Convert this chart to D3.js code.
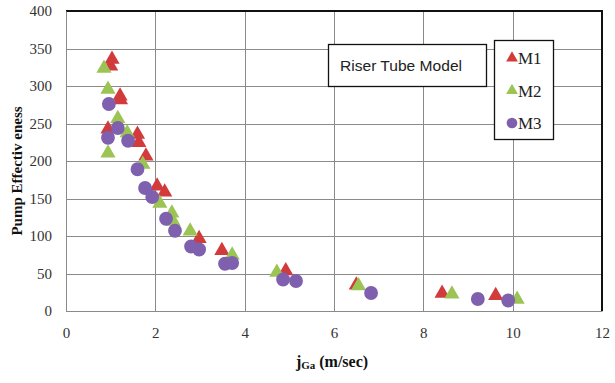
<!DOCTYPE html>
<html>
<head>
<meta charset="utf-8">
<script src="https://cdn.jsdelivr.net/npm/d3@7"></script>
<style>
  html, body { margin: 0; padding: 0; background: #fff; }
  svg { display: block; }
</style>
</head>
<body>
<svg id="chart"></svg>
<script>
// --- data (x = jGa in m/sec, y = pump effectiveness) ---
const seriesNames = ['M1', 'M2', 'M3'];

const m1 = [
  [1.03, 337], [1.0, 328], [1.21, 288], [1.22, 283], [0.94, 244], [1.6, 237],
  [1.63, 226], [1.79, 208], [2.04, 168], [2.21, 160], [2.98, 98], [3.49, 82],
  [4.92, 55], [6.5, 36], [8.42, 25], [9.62, 22]
];
const m2 = [
  [0.85, 325], [0.94, 297], [1.16, 258], [1.37, 239], [0.94, 212], [1.72, 197],
  [2.1, 145], [2.37, 132], [2.4, 121], [2.78, 108], [3.72, 76], [4.72, 53],
  [6.55, 35], [8.64, 24], [10.1, 17]
];
const m3 = [
  [0.96, 276], [1.16, 244], [0.94, 231], [1.39, 227], [1.6, 189], [1.77, 164],
  [1.93, 152], [2.24, 123], [2.44, 107], [2.8, 86], [2.98, 82], [3.56, 63],
  [3.72, 64], [4.86, 42], [5.15, 40], [6.83, 24], [9.22, 16], [9.9, 14]
];

const xTicks = [0, 2, 4, 6, 8, 10, 12];
const yTicks = [0, 50, 100, 150, 200, 250, 300, 350, 400];

const width = 615, height = 383;
const margin = { top: 11, right: 13, bottom: 72, left: 66 };

const svg = d3.select('#chart').attr('width', width).attr('height', height);

const x = d3.scaleLinear().domain([0, 12]).range([margin.left, width - margin.right]);
const y = d3.scaleLinear().domain([0, 400]).range([height - margin.bottom, margin.top]);

const color = d3.scaleOrdinal()
  .domain(seriesNames)
  .range(['#d13b3c', '#9cc455', '#7e60ae']);

const shape = d3.scaleOrdinal()
  .domain(seriesNames)
  .range(['triangle', 'triangle', 'circle']);

// gridlines
const grid = svg.append('g').attr('stroke', '#8a8a8a').attr('stroke-width', 1);
grid.selectAll('line.h')
  .data(yTicks)
  .join('line')
    .attr('class', 'h')
    .attr('x1', x(0)).attr('x2', x(12))
    .attr('y1', d => Math.round(y(d)) + 0.5).attr('y2', d => Math.round(y(d)) + 0.5);
grid.selectAll('line.v')
  .data(xTicks)
  .join('line')
    .attr('class', 'v')
    .attr('y1', y(0)).attr('y2', y(400))
    .attr('x1', d => Math.round(x(d)) + 0.5).attr('x2', d => Math.round(x(d)) + 0.5);

// plot frame: top and right dark
svg.append('path')
  .attr('d', `M${x(0)},${y(400)}H${x(12)}V${y(0)}`)
  .attr('fill', 'none')
  .attr('stroke', '#111')
  .attr('stroke-width', 2);

// axes
const xAxis = svg.append('g')
  .attr('transform', `translate(0,${y(0)})`)
  .call(d3.axisBottom(x).tickValues(xTicks).tickSize(0).tickPadding(16));
const yAxis = svg.append('g')
  .attr('transform', `translate(${x(0)},0)`)
  .call(d3.axisLeft(y).tickValues(yTicks).tickSize(0).tickPadding(14));

[xAxis, yAxis].forEach(a => {
  a.select('.domain').attr('stroke', '#8a8a8a');
  a.selectAll('text')
    .attr('fill', '#333')
    .style('font-family', '"Liberation Serif", "Times New Roman", serif')
    .style('font-size', '15px');
});

// markers
const series = [
  { name: 'M1', values: m1 },
  { name: 'M2', values: m2 },
  { name: 'M3', values: m3 }
];

const triangle = d3.symbol().type(d3.symbolTriangle).size(100);
const circle = d3.symbol().type(d3.symbolCircle).size(150);

function markPath(name) {
  return shape(name) === 'triangle' ? triangle() : circle();
}

series.forEach(s => {
  svg.append('g')
    .selectAll('path')
    .data(s.values)
    .join('path')
      .attr('d', markPath(s.name))
      .attr('transform', d => `translate(${x(d[0])},${y(d[1]) + (shape(s.name) === 'triangle' ? 1 : 0)})`)
      .attr('fill', color(s.name));
});

// "Riser Tube Model" text box
const note = svg.append('g');
note.append('rect')
  .attr('x', 328.5).attr('y', 44.5)
  .attr('width', 158).attr('height', 42)
  .attr('fill', '#fff')
  .attr('stroke', '#111')
  .attr('stroke-width', 1.3);
note.append('text')
  .attr('x', 340).attr('y', 71)
  .attr('textLength', 122)
  .attr('lengthAdjust', 'spacingAndGlyphs')
  .style('font-family', '"Liberation Sans", Arial, sans-serif')
  .style('font-size', '15px')
  .attr('fill', '#222')
  .text('Riser Tube Model');

// legend
const legend = svg.append('g');
legend.append('rect')
  .attr('x', 494.5).attr('y', 40.5)
  .attr('width', 59).attr('height', 99)
  .attr('fill', '#fff')
  .attr('stroke', '#111')
  .attr('stroke-width', 1.3);

const legendY = d3.scalePoint().domain(seriesNames).range([58, 123]);

legend.selectAll('path')
  .data(seriesNames)
  .join('path')
    .attr('d', d => shape(d) === 'triangle'
      ? d3.symbol().type(d3.symbolTriangle).size(60)()
      : d3.symbol().type(d3.symbolCircle).size(90)())
    .attr('transform', d => `translate(512,${legendY(d)})`)
    .attr('fill', d => color(d));

legend.selectAll('text')
  .data(seriesNames)
  .join('text')
    .attr('x', 518)
    .attr('y', d => legendY(d) + 6)
    .style('font-family', '"Liberation Serif", "Times New Roman", serif')
    .style('font-size', '17px')
    .attr('fill', '#222')
    .text(d => d);

// axis titles
svg.append('text')
  .attr('transform', `translate(22,${(y(0) + y(400)) / 2 + 10}) rotate(-90)`)
  .attr('text-anchor', 'middle')
  .style('font-family', '"Liberation Serif", "Times New Roman", serif')
  .style('font-size', '15px')
  .style('font-weight', 'bold')
  .attr('fill', '#111')
  .text('Pump Effectiv eness');

const xTitle = svg.append('text')
  .attr('x', 332)
  .attr('y', 367)
  .attr('text-anchor', 'middle')
  .style('font-family', '"Liberation Serif", "Times New Roman", serif')
  .style('font-size', '16px')
  .style('font-weight', 'bold')
  .attr('fill', '#111');
xTitle.append('tspan').text('j');
xTitle.append('tspan').attr('font-size', '11px').attr('dy', 2).text('Ga');
xTitle.append('tspan').attr('dy', -2).text(' (m/sec)');
</script>
</body>
</html>
